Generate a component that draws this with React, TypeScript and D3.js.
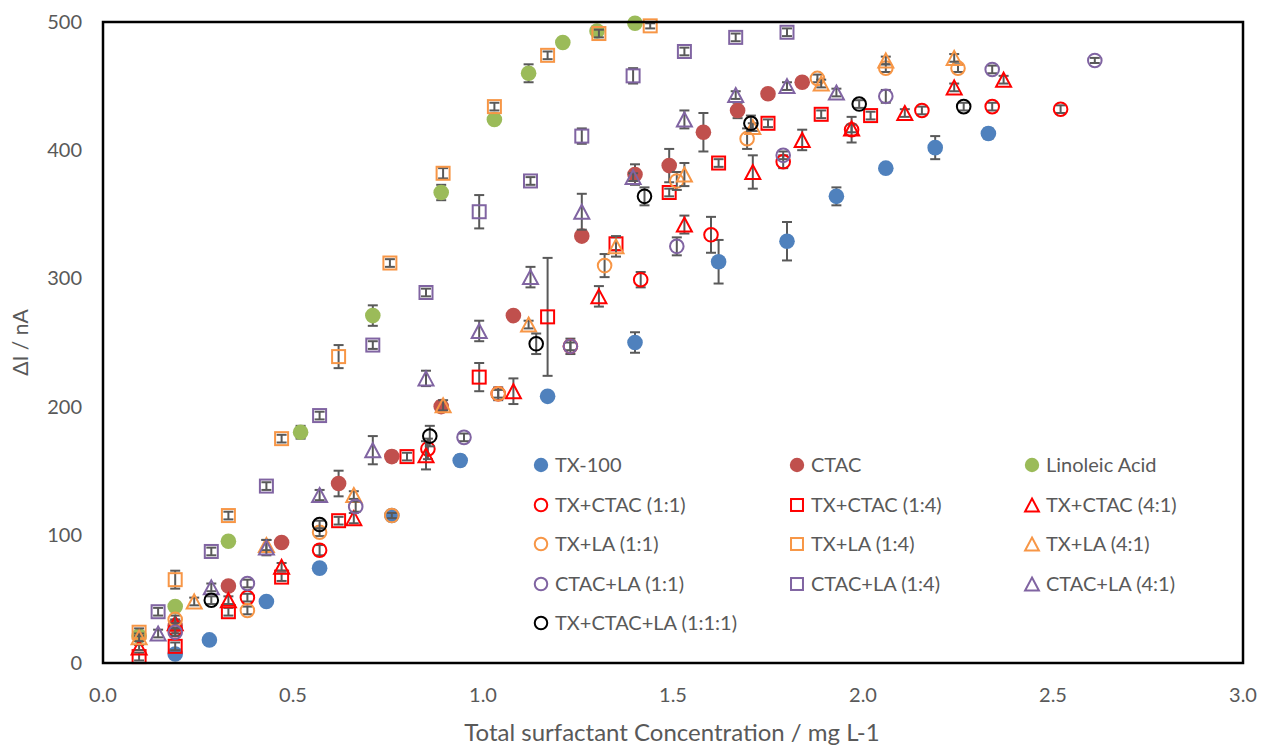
import React from 'react';
import * as d3 from 'd3';

// x = total surfactant concentration (mg L-1), y = ΔI (nA), e = error bar
const tx100X = [0.19, 0.28, 0.43, 0.57, 0.76, 0.94, 1.17, 1.40, 1.62, 1.80, 1.93, 2.06, 2.19, 2.33];
const tx100Y = [7, 18, 48, 74, 115, 158, 208, 250, 313, 329, 364, 386, 402, 413];
const tx100E = [2, 2, 2, 2, 2, 4, 2, 8, 17, 15, 7, 2, 9, 4];

const ctacX = [0.19, 0.33, 0.47, 0.62, 0.76, 0.89, 1.08, 1.26, 1.40, 1.49, 1.58, 1.67, 1.75, 1.84];
const ctacY = [29, 60, 94, 140, 161, 200, 271, 333, 381, 388, 414, 431, 444, 453];
const ctacE = [3, 3, 3, 10, 4, 4, 2, 3, 8, 13, 15, 6, 3, 3];

const laX = [0.095, 0.19, 0.33, 0.52, 0.71, 0.89, 1.03, 1.12, 1.21, 1.30, 1.40];
const laY = [21, 44, 95, 180, 271, 367, 424, 460, 484, 493, 499];
const laE = [2, 3, 2, 5, 8, 6, 2, 7, 2, 2, 2];

const txCtac11X = [0.19, 0.38, 0.57, 0.855, 1.04, 1.23, 1.415, 1.60, 1.79, 1.97, 2.155, 2.34, 2.52];
const txCtac11Y = [26, 51, 88, 167, 210, 247, 299, 334, 391, 416, 431, 434, 432];
const txCtac11E = [3, 3, 4, 8, 5, 6, 6, 14, 5, 10, 3, 3, 3];

const txCtac14X = [0.095, 0.19, 0.33, 0.47, 0.62, 0.80, 0.99, 1.17, 1.35, 1.49, 1.62, 1.75, 1.89, 2.02];
const txCtac14Y = [5, 13, 40, 67, 111, 161, 223, 270, 327, 367, 390, 421, 428, 427];
const txCtac14E = [3, 3, 3, 3, 3, 3, 11, 46, 5, 3, 3, 3, 3, 3];

const txCtac41X = [0.095, 0.19, 0.33, 0.47, 0.66, 0.85, 1.08, 1.305, 1.53, 1.71, 1.84, 1.97, 2.11, 2.24, 2.37];
const txCtac41Y = [12, 31, 49, 75, 113, 162, 212, 286, 342, 383, 408, 417, 429, 449, 455];
const txCtac41E = [2, 3, 3, 3, 4, 11, 10, 8, 7, 13, 8, 3, 3, 3, 3];

const txLa11X = [0.19, 0.38, 0.57, 0.76, 1.04, 1.32, 1.51, 1.695, 1.88, 2.06, 2.25];
const txLa11Y = [34, 41, 102, 115, 210, 310, 376, 409, 456, 464, 464];
const txLa11E = [3, 3, 3, 2, 3, 9, 7, 8, 3, 3, 3];

const txLa14X = [0.095, 0.19, 0.33, 0.47, 0.62, 0.755, 0.895, 1.03, 1.17, 1.305, 1.44];
const txLa14Y = [24, 65, 115, 175, 239, 312, 382, 434, 474, 491, 497];
const txLa14E = [3, 7, 3, 3, 9, 3, 4, 3, 3, 3, 2];

const txLa41X = [0.095, 0.24, 0.43, 0.66, 0.895, 1.12, 1.35, 1.53, 1.71, 1.89, 2.06, 2.24];
const txLa41Y = [20, 48, 92, 131, 201, 264, 325, 381, 418, 452, 470, 472];
const txLa41E = [3, 3, 4, 3, 4, 3, 8, 9, 3, 3, 3, 3];

const ctacLa11X = [0.19, 0.38, 0.665, 0.95, 1.23, 1.51, 1.79, 2.06, 2.34, 2.61];
const ctacLa11Y = [24, 62, 122, 176, 247, 325, 396, 442, 463, 470];
const ctacLa11E = [3, 3, 4, 3, 3, 7, 3, 5, 3, 2];

const ctacLa14X = [0.145, 0.285, 0.43, 0.57, 0.71, 0.85, 0.99, 1.125, 1.26, 1.395, 1.53, 1.665, 1.80];
const ctacLa14Y = [40, 87, 138, 193, 248, 289, 352, 376, 411, 458, 477, 488, 492];
const ctacLa14E = [3, 3, 3, 3, 3, 3, 13, 3, 6, 6, 3, 3, 3];

const ctacLa41X = [0.145, 0.285, 0.43, 0.57, 0.71, 0.85, 0.99, 1.125, 1.26, 1.395, 1.53, 1.665, 1.80, 1.93];
const ctacLa41Y = [23, 59, 90, 131, 166, 222, 259, 301, 352, 379, 424, 443, 450, 445];
const ctacLa41E = [3, 3, 6, 4, 11, 6, 8, 8, 14, 3, 7, 3, 3, 3];

const mixX = [0.285, 0.57, 0.86, 1.14, 1.425, 1.705, 1.99, 2.265];
const mixY = [49, 108, 177, 249, 364, 421, 436, 434];
const mixE = [3, 3, 8, 8, 7, 6, 3, 3];

const xTicks = [0, 0.5, 1, 1.5, 2, 2.5, 3];
const yTicks = [0, 100, 200, 300, 400, 500];

const series = [
  { name: 'TX-100', x: tx100X, y: tx100Y, e: tx100E, shape: 'dot', color: '#4F81BD' },
  { name: 'CTAC', x: ctacX, y: ctacY, e: ctacE, shape: 'dot', color: '#C0504D' },
  { name: 'Linoleic Acid', x: laX, y: laY, e: laE, shape: 'dot', color: '#9BBB59' },
  { name: 'TX+CTAC (1:1)', x: txCtac11X, y: txCtac11Y, e: txCtac11E, shape: 'circle', color: '#FF0000' },
  { name: 'TX+CTAC (1:4)', x: txCtac14X, y: txCtac14Y, e: txCtac14E, shape: 'square', color: '#FF0000' },
  { name: 'TX+CTAC (4:1)', x: txCtac41X, y: txCtac41Y, e: txCtac41E, shape: 'triangle', color: '#FF0000' },
  { name: 'TX+LA (1:1)', x: txLa11X, y: txLa11Y, e: txLa11E, shape: 'circle', color: '#F79646' },
  { name: 'TX+LA (1:4)', x: txLa14X, y: txLa14Y, e: txLa14E, shape: 'square', color: '#F79646' },
  { name: 'TX+LA (4:1)', x: txLa41X, y: txLa41Y, e: txLa41E, shape: 'triangle', color: '#F79646' },
  { name: 'CTAC+LA (1:1)', x: ctacLa11X, y: ctacLa11Y, e: ctacLa11E, shape: 'circle', color: '#8064A2' },
  { name: 'CTAC+LA (1:4)', x: ctacLa14X, y: ctacLa14Y, e: ctacLa14E, shape: 'square', color: '#8064A2' },
  { name: 'CTAC+LA (4:1)', x: ctacLa41X, y: ctacLa41Y, e: ctacLa41E, shape: 'triangle', color: '#8064A2' },
  { name: 'TX+CTAC+LA (1:1:1)', x: mixX, y: mixY, e: mixE, shape: 'circle', color: '#000000' },
];

const W = 1261;
const H = 745;
const plot = { left: 103, right: 1243, top: 22, bottom: 663 };
const font = 'Lato, "Open Sans", sans-serif';
const textColor = '#595959';

function Marker({ shape, color, cx, cy, s = 1 }) {
  if (shape === 'dot') {
    return <circle cx={cx} cy={cy} r={7.8 * s} fill={color} />;
  }
  if (shape === 'circle') {
    return <circle cx={cx} cy={cy} r={6.8 * s} fill="none" stroke={color} strokeWidth={2} />;
  }
  if (shape === 'square') {
    const h = 6.5 * s;
    return <rect x={cx - h} y={cy - h} width={2 * h} height={2 * h} fill="none" stroke={color} strokeWidth={2} />;
  }
  const w = 7.5 * s;
  const h = 7 * s;
  return (
    <path
      d={`M${cx},${cy - h}L${cx + w},${cy + h}L${cx - w},${cy + h}Z`}
      fill="none"
      stroke={color}
      strokeWidth={2}
      strokeLinejoin="miter"
    />
  );
}

export default function App() {
  const x = d3.scaleLinear().domain([0, 3]).range([plot.left, plot.right]);
  const y = d3.scaleLinear().domain([0, 500]).range([plot.bottom, plot.top]);

  const legendCols = [541, 797, 1032];
  const legendRows = [465, 505, 544, 584, 623];

  return (
    <div style={{ position: 'absolute', left: 0, top: 0 }}>
      <svg width={W} height={H} style={{ display: 'block', background: '#fff' }}>
        {/* tick labels */}
        {yTicks.map((t) => (
          <text key={'y' + t} x={82} y={y(t)} dy="0.35em" textAnchor="end" fontFamily={font} fontSize={20} fill={textColor}>
            {t}
          </text>
        ))}
        {xTicks.map((t) => (
          <text key={'x' + t} x={x(t)} y={695} dy="0.35em" textAnchor="middle" fontFamily={font} fontSize={20} fill={textColor}>
            {d3.format('.1f')(t)}
          </text>
        ))}

        {/* axis titles */}
        <text
          x={672}
          y={733}
          dy="0.35em"
          textAnchor="middle"
          fontFamily={font}
          fontSize={24}
          fill={textColor}
        >
          Total surfactant Concentration / mg L-1
        </text>
        <text
          transform={`translate(21, ${(plot.top + plot.bottom) / 2}) rotate(-90)`}
          dy="0.35em"
          textAnchor="middle"
          fontFamily={font}
          fontSize={21}
          fill={textColor}
        >
          ΔI / nA
        </text>

        {/* series */}
        {series.map((s) => (
          <g key={s.name}>
            {s.x.map((xv, i) => {
              const cx = x(xv);
              const y0 = y(s.y[i] - s.e[i]);
              const y1 = y(s.y[i] + s.e[i]);
              return (
                <g key={i} stroke="#595959" strokeWidth={2}>
                  <line x1={cx} x2={cx} y1={y0} y2={y1} />
                  <line x1={cx - 5} x2={cx + 5} y1={y0} y2={y0} />
                  <line x1={cx - 5} x2={cx + 5} y1={y1} y2={y1} />
                </g>
              );
            })}
            {s.x.map((xv, i) => (
              <Marker key={'m' + i} shape={s.shape} color={s.color} cx={x(xv)} cy={y(s.y[i])} />
            ))}
          </g>
        ))}

        {/* plot border */}
        <rect
          x={plot.left}
          y={plot.top}
          width={plot.right - plot.left}
          height={plot.bottom - plot.top}
          fill="none"
          stroke="#000"
          strokeWidth={2.5}
        />

        {/* legend */}
        {series.map((s, i) => {
          const cx = legendCols[i % 3];
          const cy = legendRows[Math.floor(i / 3)];
          return (
            <g key={'lg' + s.name}>
              <Marker shape={s.shape} color={s.color} cx={cx} cy={cy} s={0.92} />
              <text x={cx + 14} y={cy} dy="0.35em" fontFamily={font} fontSize={20} fill={textColor}>
                {s.name}
              </text>
            </g>
          );
        })}
      </svg>
    </div>
  );
}
